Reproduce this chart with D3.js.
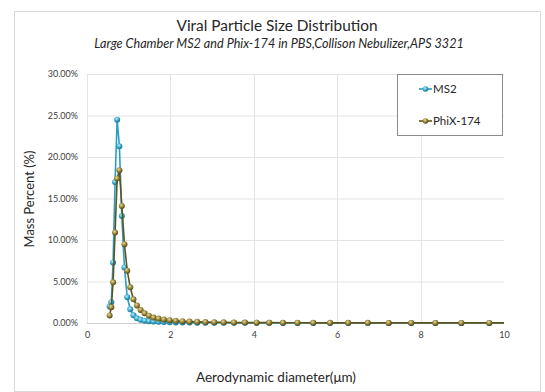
<!DOCTYPE html>
<html>
<head>
<meta charset="utf-8">
<script src="https://cdn.jsdelivr.net/npm/d3@7"></script>
<style>
  html, body { margin: 0; padding: 0; background: #fff; }
  svg { display: block; font-family: Lato, "Open Sans", sans-serif; }
</style>
</head>
<body>
<svg id="chart" width="545" height="392"></svg>
<script>
// APS 3321 channel midpoints (µm) and mass percent per channel
const diameters = [0.542, 0.583, 0.626, 0.673, 0.723, 0.777, 0.835, 0.898, 0.965, 1.037,
  1.114, 1.197, 1.286, 1.382, 1.486, 1.596, 1.715, 1.843, 1.981, 2.129,
  2.288, 2.458, 2.642, 2.839, 3.051, 3.278, 3.523, 3.786, 4.068, 4.371,
  4.698, 5.048, 5.425, 5.829, 6.264, 6.732, 7.234, 7.774, 8.354, 8.977, 9.647, 10.37];

const ms2 = [2.0, 2.5, 7.3, 17.0, 24.5, 21.3, 12.9, 6.7, 3.1, 1.65,
  0.93, 0.56, 0.38, 0.28, 0.22, 0.17, 0.14, 0.11, 0.09, 0.07,
  0.06, 0.05, 0.04, 0.04, 0.03, 0.03, 0.02, 0.02, 0.02, 0.02,
  0.01, 0.01, 0.01, 0.01, 0.01, 0.01, 0.01, 0.01, 0.01, 0.01, 0.01, 0.01];

const phix = [0.9, 1.9, 4.9, 10.9, 17.4, 18.4, 14.1, 9.5, 6.3, 4.3,
  2.85, 2.1, 1.57, 1.17, 0.88, 0.65, 0.53, 0.42, 0.33, 0.26,
  0.21, 0.17, 0.14, 0.11, 0.09, 0.08, 0.06, 0.05, 0.04, 0.04,
  0.03, 0.03, 0.02, 0.02, 0.02, 0.02, 0.01, 0.01, 0.01, 0.01, 0.01, 0.01];

const seriesNames = ["MS2", "PhiX-174"];
const xTicks = [0, 2, 4, 6, 8, 10];
const yTicks = [0, 5, 10, 15, 20, 25, 30];

const titleText = "Viral Particle Size Distribution";
const subtitleText = "Large Chamber MS2 and Phix-174 in PBS,Collison Nebulizer,APS 3321";
const xTitle = "Aerodynamic diameter(\u03bcm)";
const yTitle = "Mass Percent (%)";

const svg = d3.select("#chart");

// fit a text element to a target width by adjusting its font size
function fitWidth(sel, target, base) {
  sel.attr("font-size", base);
  const w = sel.node().getComputedTextLength();
  sel.attr("font-size", (base * target / w).toFixed(2));
}

// chart frame
svg.append("rect")
  .attr("x", 14.5).attr("y", 11.5).attr("width", 526).attr("height", 380)
  .attr("fill", "#fff").attr("stroke", "#d9d9d9");

const x = d3.scaleLinear().domain([0, 10]).range([87, 504]);
const y = d3.scaleLinear().domain([0, 30]).range([323, 74]);

// marker gradients
const defs = svg.append("defs");
function ball(id, light, mid, dark) {
  const g = defs.append("radialGradient").attr("id", id)
    .attr("cx", "40%").attr("cy", "35%").attr("r", "65%");
  g.append("stop").attr("offset", "0%").attr("stop-color", light);
  g.append("stop").attr("offset", "55%").attr("stop-color", mid);
  g.append("stop").attr("offset", "100%").attr("stop-color", dark);
}
ball("ballBlue", "#bfeefa", "#35a9cc", "#1a6f88");
ball("ballOlive", "#e8dc9c", "#978437", "#4f4517");

// gridlines
const grid = svg.append("g");
grid.selectAll(".hg").data(yTicks.slice(1)).join("line")
  .attr("x1", x(0)).attr("x2", x(10))
  .attr("y1", d => y(d) + 0.5).attr("y2", d => y(d) + 0.5)
  .attr("stroke", "#e4e4e4").attr("stroke-width", 1);
grid.selectAll(".vg").data(xTicks.slice(0, -1)).join("line")
  .attr("x1", d => Math.round(x(d)) + 0.5).attr("x2", d => Math.round(x(d)) + 0.5)
  .attr("y1", y(30)).attr("y2", y(0))
  .attr("stroke", "#e4e4e4").attr("stroke-width", 1);
svg.append("line")
  .attr("x1", x(0)).attr("x2", x(10)).attr("y1", y(0) + 0.5).attr("y2", y(0) + 0.5)
  .attr("stroke", "#d0d0d0");

// axes (labels only)
const yAxis = d3.axisLeft(y).tickValues(yTicks).tickSize(0).tickPadding(0)
  .tickFormat(d => d.toFixed(2) + "%");
const yg = svg.append("g").attr("transform", "translate(78,0)").call(yAxis);
yg.select(".domain").remove();
yg.selectAll("text").attr("font-size", 9).attr("fill", "#404040")
  .attr("font-family", "Lato, sans-serif");

const xAxis = d3.axisBottom(x).tickValues(xTicks).tickSize(0).tickPadding(0)
  .tickFormat(d3.format("d"));
const xg = svg.append("g").attr("transform", "translate(0,332)").call(xAxis);
xg.select(".domain").remove();
xg.selectAll("text").attr("font-size", 9).attr("fill", "#404040")
  .attr("font-family", "Lato, sans-serif");

// series
const clip = defs.append("clipPath").attr("id", "plotClip");
clip.append("rect").attr("x", x(0)).attr("y", y(30) - 10)
  .attr("width", x(10) - x(0)).attr("height", y(0) - y(30) + 20);

const line = d3.line().x(d => x(d[0])).y(d => y(d[1]));
const seriesData = [
  { name: seriesNames[0], values: diameters.map((d, i) => [d, ms2[i]]), stroke: "#2b9fc2", fill: "url(#ballBlue)" },
  { name: seriesNames[1], values: diameters.map((d, i) => [d, phix[i]]), stroke: "#5e5421", fill: "url(#ballOlive)" }
];

const plot = svg.append("g").attr("clip-path", "url(#plotClip)");
seriesData.forEach(s => {
  const g = plot.append("g");
  g.append("path").datum(s.values).attr("d", line)
    .attr("fill", "none").attr("stroke", s.stroke).attr("stroke-width", 1.6);
  g.selectAll("circle").data(s.values.filter(d => d[0] <= 10)).join("circle")
    .attr("cx", d => x(d[0])).attr("cy", d => y(d[1])).attr("r", 3)
    .attr("fill", s.fill);
});

// titles
const t = svg.append("text").attr("x", 277).attr("y", 31).attr("text-anchor", "middle")
  .attr("fill", "#262626").text(titleText);
fitWidth(t, 201, 16);
const st = svg.append("text").attr("x", 279).attr("y", 48).attr("text-anchor", "middle")
  .attr("font-style", "italic").attr("fill", "#262626").text(subtitleText);
fitWidth(st, 370, 12);

const xt = svg.append("text").attr("x", 276).attr("y", 382).attr("text-anchor", "middle")
  .attr("fill", "#262626").text(xTitle);
fitWidth(xt, 160, 12);
const yt = svg.append("text").attr("transform", "translate(34,199) rotate(-90)")
  .attr("text-anchor", "middle").attr("fill", "#262626").text(yTitle);
fitWidth(yt, 97, 12);

// legend
const lg = svg.append("g");
lg.append("rect").attr("x", 397.5).attr("y", 74.5).attr("width", 105).attr("height", 61)
  .attr("fill", "#fff").attr("stroke", "#8c8c8c");
seriesData.forEach((s, i) => {
  const ly = 89 + i * 32;
  lg.append("line").attr("x1", 419).attr("x2", 432).attr("y1", ly).attr("y2", ly)
    .attr("stroke", s.stroke).attr("stroke-width", 1.6);
  lg.append("circle").attr("cx", 425.5).attr("cy", ly).attr("r", 2.8).attr("fill", s.fill);
  lg.append("text").attr("x", 433).attr("y", ly + 4).attr("font-size", 11.5)
    .attr("fill", "#262626").text(s.name);
});
</script>
</body>
</html>
